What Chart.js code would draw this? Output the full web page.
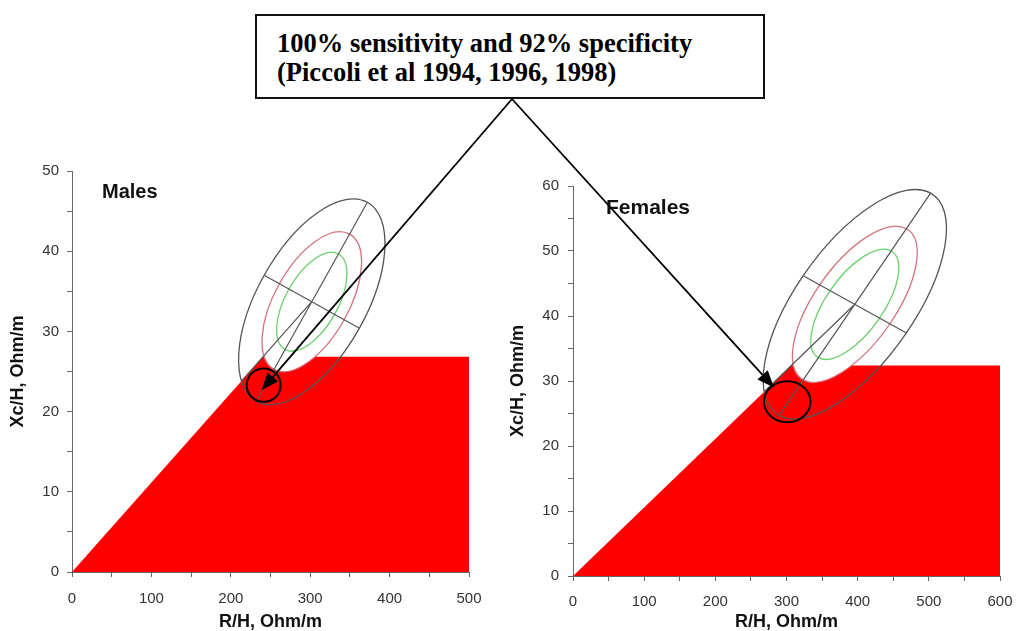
<!DOCTYPE html>
<html><head><meta charset="utf-8">
<script src="https://cdn.jsdelivr.net/npm/chart.js@4.4.1/dist/chart.umd.min.js"></script>
<style>
html,body{margin:0;padding:0;background:#fff;width:1018px;height:631px;overflow:hidden;position:relative;}
#boxNote{position:absolute;left:255px;top:14px;width:510px;height:85px;box-sizing:border-box;border:2px solid #111;padding:13px 0 0 20px;font-family:'Liberation Serif','Times New Roman',serif;font-weight:bold;font-size:26.5px;line-height:29px;color:#000;white-space:nowrap;}
canvas{position:absolute;}
</style></head><body>
<canvas id="male" width="500" height="481" style="left:0;top:150px"></canvas>
<canvas id="female" width="518" height="481" style="left:500px;top:150px"></canvas>
<div id="boxNote">100% sensitivity and 92% specificity<br>(Piccoli et al 1994, 1996, 1998)</div>
<canvas id="arrows" width="1018" height="631" style="left:0;top:0;pointer-events:none"></canvas>
<script>
// ---------- data ----------
const xTitle = 'R/H, Ohm/m';
const yTitle = 'Xc/H, Ohm/m';
const panelLabels = ['Males', 'Females'];
const axisMaxX = [500, 600];
const axisMaxY = [50, 60];
// red zone outline (R/H, Xc/H) — filled down to Xc/H = 0
const maleZoneX = [0, 240.6, 500, 500];
const maleZoneY = [0, 26.85, 26.85, 0];
const femaleZoneX = [0, 307, 600, 600];
const femaleZoneY = [0, 32.4, 32.4, 0];
// tolerance ellipses: mean vector, semi-major and semi-minor axis vectors (95% ellipse)
const maleCenter = [302, 33.7];
const maleMajor = [70, 12.4];
const maleMinor = [-60, 3.3];
const femaleCenter = [396, 41.8];
const femaleMajor = [106.5, 17.1];
const femaleMinor = [-72.5, 4.4];
const ellipseLevels = [0.48, 0.68, 1.0];       // 50%, 75%, 95% relative size
const ellipseColors = ['#6ccf6c', '#d4727e', '#555555'];
// highlighted spot: centre (x, y) and radii (x, y)
const maleMarker = [241.4, 23.3, 21.4, 2.08];
const femaleMarker = [301, 26.8, 32.7, 3.15];
// arrow tips (data units)
const maleArrowTip = [238.9, 22.7];
const femaleArrowTip = [282.4, 29.0];
const arrowStart = [512, 99];

Chart.defaults.font.family = "'Liberation Sans', Arial, sans-serif";

const biaPlugin = {
  id: 'bia',
  afterDatasetsDraw(chart, args, opts) {
    const d = opts.spec;
    if (!d) return;
    const {ctx, chartArea, scales: {x, y}} = chart;
    const px = (a, b) => [x.getPixelForValue(a), y.getPixelForValue(b)];
    const kx = x.getPixelForValue(1) - x.getPixelForValue(0);
    const ky = y.getPixelForValue(1) - y.getPixelForValue(0);
    const c = px(d.center[0], d.center[1]);
    const U = [d.major[0] * kx, d.major[1] * ky];
    const V = [d.minor[0] * kx, d.minor[1] * ky];
    const ellPath = s => {
      ctx.beginPath();
      ctx.save();
      ctx.transform(U[0] * s, U[1] * s, V[0] * s, V[1] * s, c[0], c[1]);
      ctx.arc(0, 0, 1, 0, Math.PI * 2);
      ctx.restore();
    };
    ctx.save();
    ctx.beginPath();
    ctx.rect(chartArea.left, chartArea.top, chartArea.width, chartArea.height);
    ctx.clip();
    // white cut-out inside the 75% ellipse
    ellPath(ellipseLevels[1]);
    ctx.fillStyle = '#ffffff';
    ctx.fill();
    // ellipses
    ctx.lineWidth = 1.3;
    ellipseLevels.forEach((s, i) => {
      ellPath(s);
      ctx.strokeStyle = ellipseColors[i];
      ctx.stroke();
    });
    // axes of the 95% ellipse
    ctx.strokeStyle = '#555555';
    ctx.lineWidth = 1.2;
    ctx.beginPath();
    ctx.moveTo(c[0] - U[0], c[1] - U[1]); ctx.lineTo(c[0] + U[0], c[1] + U[1]);
    ctx.moveTo(c[0] - V[0], c[1] - V[1]); ctx.lineTo(c[0] + V[0], c[1] + V[1]);
    // line towards the origin, from the 95% ellipse to the mean
    const det = d.major[0] * d.minor[1] - d.major[1] * d.minor[0];
    const al = (d.center[0] * d.minor[1] - d.center[1] * d.minor[0]) / det;
    const be = (d.major[0] * d.center[1] - d.major[1] * d.center[0]) / det;
    const s0 = 1 - 1 / Math.sqrt(al * al + be * be);
    const st = px(d.center[0] * s0, d.center[1] * s0);
    ctx.moveTo(st[0], st[1]); ctx.lineTo(c[0], c[1]);
    ctx.stroke();
    // highlighted spot
    const m = d.marker;
    const mc = px(m[0], m[1]);
    ctx.beginPath();
    ctx.ellipse(mc[0], mc[1], Math.abs(m[2] * kx), Math.abs(m[3] * ky), 0, 0, Math.PI * 2);
    ctx.strokeStyle = '#000';
    ctx.lineWidth = 2;
    ctx.stroke();
    ctx.restore();
    // panel label
    ctx.save();
    ctx.font = 'bold ' + d.labelSize + 'px "Liberation Sans", Arial, sans-serif';
    ctx.fillStyle = '#111';
    ctx.textBaseline = 'middle';
    ctx.textAlign = 'left';
    ctx.fillText(d.label, chartArea.left + d.labelDx, chartArea.top + d.labelDy);
    ctx.restore();
  }
};

function makeChart(id, zx, zy, xmax, ymax, spec, lay) {
  const pts = zx.map((v, i) => ({x: v, y: zy[i]}));
  return new Chart(document.getElementById(id), {
    type: 'scatter',
    data: {datasets: [{
      data: pts, showLine: true, fill: 'origin',
      backgroundColor: '#ff0000', borderColor: '#ff0000', borderWidth: 0,
      pointRadius: 0, tension: 0
    }]},
    options: {
      responsive: false, animation: false, devicePixelRatio: 1,
      layout: {padding: {top: lay.top, right: lay.right, left: 0, bottom: 0}},
      plugins: {legend: {display: false}, tooltip: {enabled: false}, bia: {spec}},
      scales: {
        x: {
          type: 'linear', min: 0, max: xmax,
          afterFit: s => { s.height = lay.xh; s.paddingRight = 0; s.paddingLeft = 0; },
          grid: {drawOnChartArea: false, drawTicks: true, tickLength: 5, color: '#666'},
          border: {display: true, color: '#666', width: 1},
          ticks: {stepSize: 50, autoSkip: false, maxRotation: 0, padding: lay.xpad,
                  color: '#333', font: {size: 15},
                  callback: v => (v % 100 === 0 ? String(v) : '')},
          title: {display: true, text: xTitle, color: '#111',
                  font: {size: 18, weight: 'bold', lineHeight: 1}, padding: {top: 0, bottom: lay.xtpad}}
        },
        y: {
          type: 'linear', min: 0, max: ymax,
          afterFit: s => { s.width = lay.yw; s.paddingTop = 0; s.paddingBottom = 0; },
          grid: {drawOnChartArea: false, drawTicks: true, tickLength: 5, color: '#666'},
          border: {display: true, color: '#666', width: 1},
          ticks: {stepSize: 5, autoSkip: false, padding: lay.ypad, color: '#333', font: {size: 15},
                  callback: v => (v % 10 === 0 ? String(v) : '')},
          title: {display: true, text: yTitle, color: '#111',
                  font: {size: 18, weight: 'bold', lineHeight: 1}, padding: {top: 9, bottom: 0}}
        }
      }
    },
    plugins: [biaPlugin]
  });
}

const maleChart = makeChart('male', maleZoneX, maleZoneY, axisMaxX[0], axisMaxY[0],
  {center: maleCenter, major: maleMajor, minor: maleMinor, marker: maleMarker,
   label: panelLabels[0], labelSize: 20, labelDx: 30, labelDy: 21},
  {top: 21, right: 31, xh: 59, yw: 72, xpad: 13, ypad: 8, xtpad: 0});
const femaleChart = makeChart('female', femaleZoneX, femaleZoneY, axisMaxX[1], axisMaxY[1],
  {center: femaleCenter, major: femaleMajor, minor: femaleMinor, marker: femaleMarker,
   label: panelLabels[1], labelSize: 21, labelDx: 33, labelDy: 22},
  {top: 36, right: 18, xh: 55, yw: 73, xpad: 12, ypad: 9, xtpad: 0});

function drawArrows() {
  const cv = document.getElementById('arrows');
  const ctx = cv.getContext('2d');
  ctx.clearRect(0, 0, cv.width, cv.height);
  const tipOf = (chart, t, offX, offY) => [
    chart.scales.x.getPixelForValue(t[0]) + offX,
    chart.scales.y.getPixelForValue(t[1]) + offY];
  const tips = [tipOf(maleChart, maleArrowTip, 0, 150), tipOf(femaleChart, femaleArrowTip, 500, 150)];
  tips.forEach(t => {
    const [sx, sy] = arrowStart;
    const dx = t[0] - sx, dy = t[1] - sy;
    const L = Math.hypot(dx, dy), ux = dx / L, uy = dy / L;
    const hl = 17, hw = 7;
    const bx = t[0] - ux * hl, by = t[1] - uy * hl;
    ctx.beginPath();
    ctx.moveTo(sx, sy); ctx.lineTo(bx, by);
    ctx.strokeStyle = '#000'; ctx.lineWidth = 1.8; ctx.stroke();
    ctx.beginPath();
    ctx.moveTo(t[0], t[1]);
    ctx.lineTo(bx - uy * hw, by + ux * hw);
    ctx.lineTo(bx + uy * hw, by - ux * hw);
    ctx.closePath();
    ctx.fillStyle = '#000'; ctx.fill();
  });
}
drawArrows();
</script>
</body></html>
